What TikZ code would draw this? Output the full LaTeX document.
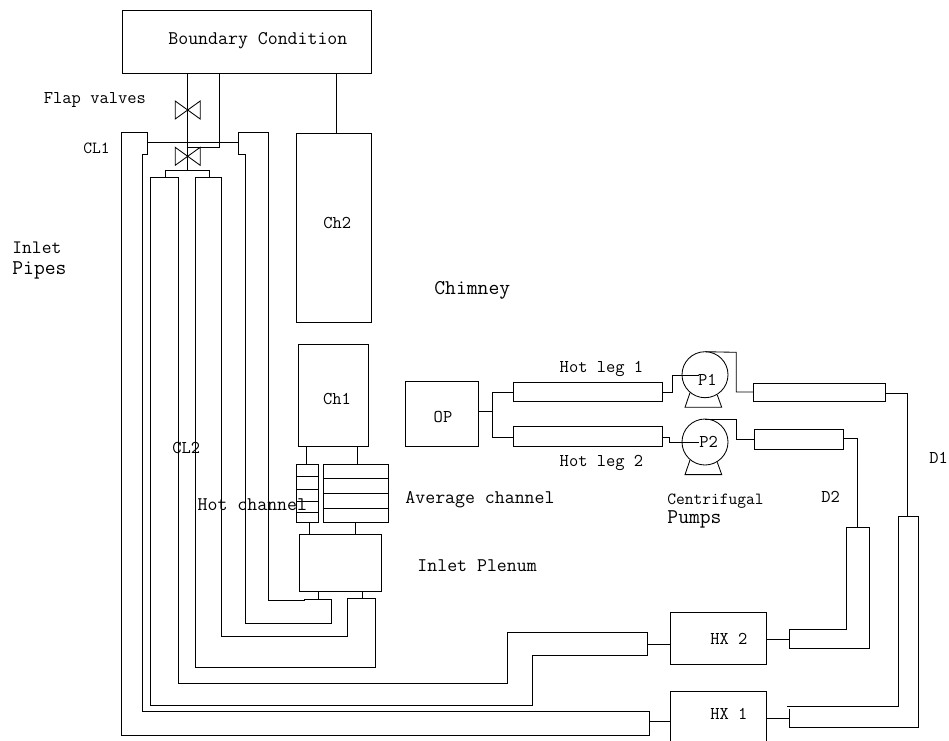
\documentclass[tikz,border=0pt]{standalone}
\begin{document}
\begin{tikzpicture}[x=1pt,y=-1pt,line join=miter,line width=.85pt]
\tikzset{unit/.style={draw,rectangle,anchor=north west,inner sep=0pt,outer sep=0pt},
lab/.style={anchor=base west,inner sep=0pt,font=\fontsize{18}{20}\selectfont\ttfamily},
widelab/.style={lab,font=\fontsize{19.3}{21}\selectfont\ttfamily},
biglab/.style={lab,font=\fontsize{21}{23}\selectfont\ttfamily},
pump/.style={draw,circle,minimum size=46pt,inner sep=0pt,outer sep=0pt}}
\useasboundingbox (0,0) rectangle (949,740);
\clip (0,0) rectangle (949,740);
\node[unit,minimum width=249.5pt,minimum height=63pt] (bc) at (122,10) {};
\node[unit,minimum width=75pt,minimum height=188.6pt] (chtwo) at (296.3,133.7) {};
\node[unit,minimum width=70.3pt,minimum height=101.7pt] (chone) at (298,344.3) {};
\node[unit,minimum width=22.3pt,minimum height=58pt] (hotch) at (296,464.3) {};
\node[unit,minimum width=64.3pt,minimum height=58pt] (avgch) at (323.7,464.3) {};
\node[unit,minimum width=82pt,minimum height=57pt] (plenum) at (299.3,534.7) {};
\node[unit,minimum width=73pt,minimum height=64.3pt] (op) at (405.7,381.7) {};
\node[unit,minimum width=148.7pt,minimum height=19.7pt] (legone) at (513.3,382) {};
\node[unit,minimum width=148.7pt,minimum height=20pt] (legtwo) at (513.3,426) {};
\node[unit,minimum width=132.4pt,minimum height=18.7pt] (downone) at (753.3,383) {};
\node[unit,minimum width=89.4pt,minimum height=19.7pt] (downtwo) at (754.3,429.3) {};
\node[unit,minimum width=96pt,minimum height=52pt] (hxtwo) at (670.7,612.3) {};
\node[unit,minimum width=96pt,minimum height=60pt] (hxone) at (670.7,691.7) {};
\node[pump] (pone) at (705,374.7) {};
\node[pump] (ptwo) at (705,442) {};
\coordinate (valveone) at (187.7,110);
\coordinate (valvetwo) at (187.7,156.3);
\foreach \y in {476.3,489.3,501,512} \draw (hotch.west |- 0,\y) -- (hotch.east |- 0,\y);
\foreach \y in {478.3,493.3,508} \draw (avgch.west |- 0,\y) -- (avgch.east |- 0,\y);
\foreach \v in {valveone,valvetwo}
\draw ([shift={(-12.5,-9)}]\v) -- ([shift={(12.5,9)}]\v) -- ([shift={(12.5,-9)}]\v) -- ([shift={(-12.5,9)}]\v) -- cycle;
\foreach \d in {0,67.3}
\draw (690,392.7+\d) -- (685,407.3+\d) -- (721.7,407.3+\d) -- (717.3,395+\d);
\draw (187.7,0 |- bc.south) -- (187.7,170.3) (219.5,0 |- bc.south) -- (219.5,147.3) -- (187.7,147.3);
\draw (336.7,0 |- bc.south) -- (336.7,0 |- chtwo.north);
\draw (147.7,142.5) -- (238.3,142.5) (165,177.7) -- (165,170.3) -- (209.3,170.3) -- (209.3,177.7);
\draw (147.7,142.5) -- (147.7,132.3) -- (121.7,132.3) -- (121.7,735.7) -- (649.3,735.7) -- (649.3,711.3)
-- (142.7,711.3) -- (142.7,154.7) -- (147.7,154.7) -- cycle;
\draw (238.3,142.5) -- (238.3,132.3) -- (268.7,132.3) -- (268.7,600.7) -- (304.3,600.7) -- (304.3,599.3)
-- (331.3,599.3) -- (331.3,623.7) -- (245.7,623.7) -- (245.7,154.7) -- (238.3,154.7) -- cycle;
\draw (150.3,177.7) -- (150.3,705.7) -- (532,705.7) -- (532,655.7) -- (647.3,655.7) -- (647.3,632.7)
-- (507.3,632.7) -- (507.3,683.7) -- (178.3,683.7) -- (178.3,177.7) -- cycle;
\draw (195.7,177.7) -- (195.7,667) -- (375.7,667) -- (375.7,598.7) -- (347.7,598.7) -- (347.7,636)
-- (221.7,636) -- (221.7,177.7) -- cycle;
\draw (318,0 |- plenum.south) -- (318,599.3) (362.3,0 |- plenum.south) -- (362.3,598.7);
\draw (306,0 |- chone.south) -- (306,0 |- hotch.north) (357,0 |- chone.south) -- (357,0 |- avgch.north);
\draw (309,0 |- hotch.south) -- (309,0 |- plenum.north) (355,0 |- avgch.south) -- (355,0 |- plenum.north);
\draw (op.east |- 0,411.7) -- (492.7,411.7) (legone.west |- 0,392) -- (492.7,392) -- (492.7,437) -- (legtwo.west |- 0,437);
\draw (legone.east |- 0,392.3) -- (672,392.3) -- (672,375.7) -- (699,375.7);
\draw (legtwo.east |- 0,437) -- (669.3,437) -- (669.3,442.7) -- (699,442.7);
\draw (pone.north) -- (736.3,352.3) -- (736.3,392) -- (downone.west |- 0,392);
\draw (ptwo.north) -- (736.3,419) -- (736.3,439.3) -- (downtwo.west |- 0,439.3);
\draw (downone.east |- 0,393.3) -- (907,393.3) -- (907,516.7);
\draw (downtwo.east |- 0,438.3) -- (857.7,438.3) -- (857.7,527.7);
\draw (846.7,527.7) -- (869.3,527.7) -- (869.3,648) -- (789,648) -- (789,629.3) -- (846.7,629.3) -- cycle;
\draw (787.3,706.7) -- (898.7,706.7) -- (898.7,516.7) -- (918.7,516.7) -- (918.7,727.7) -- (789.7,727.7) -- (789.7,709.3);
\draw (hxtwo.east |- 0,639.7) -- (789,639.7) (hxone.east |- 0,718.3) -- (789.7,718.3);
\draw (647.3,644) -- (hxtwo.west |- 0,644) (649.3,721) -- (hxone.west |- 0,721);
\node[widelab] (bclab) at (168,44) {Boundary Condition};
\node[lab] (flaplab) at (43.5,103) {Flap valves};
\node[lab,font=\fontsize{17}{20}\selectfont\ttfamily] (clonelab) at (83,153.7) {CL1};
\node[lab] (chtwolab) at (323,228.7) {Ch2};
\node[lab,font=\fontsize{19}{21}\selectfont\ttfamily] (inletlab) at (12,253.3) {Inlet};
\node[biglab] (pipeslab) at (12,274) {Pipes};
\node[biglab] (chimlab) at (434,294) {Chimney};
\node[lab] (chonelab) at (322.7,404) {Ch1};
\node[lab] (oplab) at (433.3,422.7) {OP};
\node[lab] (legonelab) at (559.3,372) {Hot leg 1};
\node[lab] (legtwolab) at (559.3,466.7) {Hot leg 2};
\node[lab] (ponelab) at (697.7,385.7) {P1};
\node[lab] (ptwolab) at (699,447) {P2};
\node[widelab] (avglab) at (405,503.3) {Average channel};
\node[widelab] (hotlab) at (197.3,510) {Hot channel};
\node[lab] (cltwolab) at (172,453) {CL2};
\node[widelab] (plenlab) at (417,571) {Inlet Plenum};
\node[lab,font=\fontsize{17}{20}\selectfont\ttfamily] (centlab) at (667,504) {Centrifugal};
\node[biglab] (pumpslab) at (667,523) {Pumps};
\node[lab] (dtwolab) at (821,502) {D2};
\node[lab] (donelab) at (929,463) {D1};
\node[lab] (hxtwolab) at (710,644) {HX 2};
\node[lab] (hxonelab) at (710,719) {HX 1};
\end{tikzpicture}
\end{document}
